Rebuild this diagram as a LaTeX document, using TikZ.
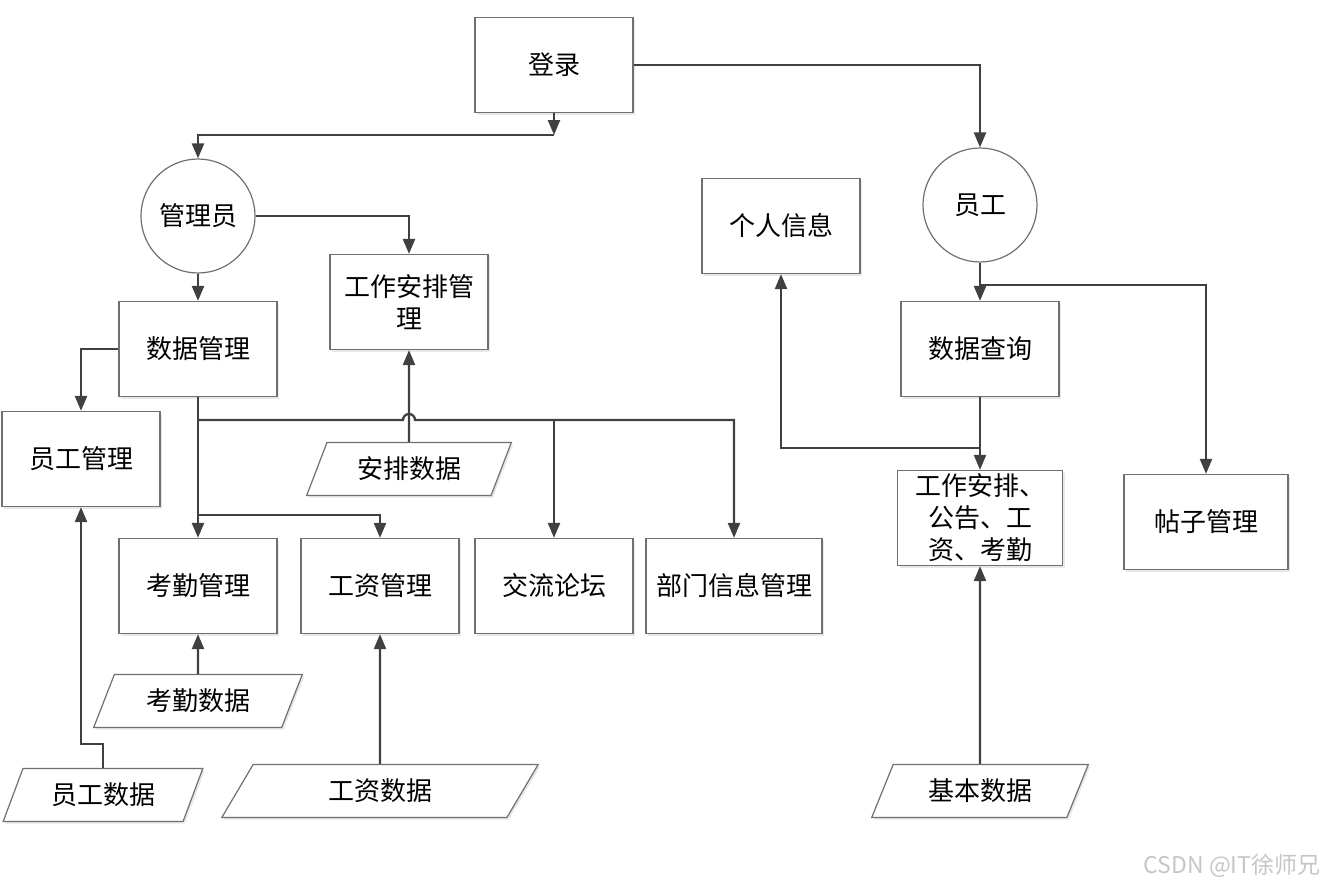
\documentclass[tikz,border=0pt]{standalone}
\usepackage{fontspec}
\setmainfont{Noto Sans CJK SC}
\usepackage{xcolor}
\usepackage{tikz}
\usetikzlibrary{positioning, shapes.geometric, arrows.meta, shadows, calc}

\definecolor{linegray}{HTML}{404040}
\definecolor{boxgray}{HTML}{707070}

\begin{document}
\begin{tikzpicture}[x=1pt, y=-1pt,
    box/.style={draw=boxgray, line width=1.2pt, fill=white, rectangle,
      minimum width=158pt, minimum height=95pt, align=center,
      font=\fontsize{26}{32}\selectfont,
      drop shadow={shadow xshift=2pt, shadow yshift=-2pt, opacity=0.18, fill=gray}},
    role/.style={draw=boxgray, line width=1.2pt, fill=white, circle,
      minimum size=114pt, font=\fontsize{26}{30}\selectfont},
    datain/.style={draw=boxgray, line width=1.2pt, fill=white, trapezium,
      trapezium left angle=66, trapezium right angle=114, trapezium stretches=true,
      minimum height=53pt, font=\fontsize{26}{30}\selectfont,
      drop shadow={shadow xshift=2pt, shadow yshift=-2pt, opacity=0.18, fill=gray}},
    arr/.style={draw=linegray, line width=2.3pt, -{Triangle[length=15pt, width=12pt]}},
    link/.style={draw=linegray, line width=2.3pt}]
  \useasboundingbox (0,0) rectangle (1332,889);

  % top
  \node[box] (login) at (554, 65) {登录};
  \node[role] (admin) at (198, 216) {管理员};
  \node[role] (staff) at (980, 205) {员工};

  % admin side
  \node[box] (plan) at (409, 302) {工作安排管\\理};
  \node[box] (data) at (198, 349) {数据管理};
  \node[box] (emp) at (81, 459) {员工管理};
  \node[box] (att) at (198, 586) {考勤管理};
  \node[box] (wage) at (380, 586) {工资管理};
  \node[box] (forum) at (554, 586) {交流论坛};
  \node[box, minimum width=176pt] (dept) at (734, 586) {部门信息管理};

  \node[datain, minimum width=205pt] (plandata) at (409, 469) {安排数据};
  \node[datain, minimum width=209pt] (attdata) at (198, 701) {考勤数据};
  \node[datain, minimum width=200pt] (empdata) at (103, 795) {员工数据};
  \node[datain, minimum width=317pt] (wagedata) at (380, 791) {工资数据};

  % staff side
  \node[box] (info) at (781, 226) {个人信息};
  \node[box] (query) at (980, 349) {数据查询};
  \node[box, minimum width=165pt] (notice) at (980, 518) {工作安排、\\公告、工\\资、考勤};
  \node[box, minimum width=164pt] (post) at (1206, 522) {帖子管理};
  \node[datain, minimum width=217pt] (basedata) at (980, 791) {基本数据};

  \coordinate (split) at (554, 135);
  \coordinate (bus) at (198, 420);
  \coordinate (wagebus) at (198, 515);
  \coordinate (postbus) at (980, 285);
  \coordinate (infobus) at (980, 448);

  \draw[arr] (login.south) -- (split);
  \draw[arr] (split) -| (admin.north);
  \draw[arr] (login.east) -| (staff.north);

  \draw[arr] (admin.east) -| (plan.north);
  \draw[arr] (admin.south) -- (data.north);
  \draw[arr] (data.west) -| (emp.north);
  \draw[arr] (data.south) -- (att.north);
  \draw[arr] (bus) -- ($(plan.south |- bus)+(-6,0)$)
    arc[start angle=180, end angle=360, radius=6] -| (dept.north);
  \draw[arr] (forum.north |- bus) -- (forum.north);
  \draw[arr] (wagebus) -| (wage.north);

  \draw[arr] (plandata.north) -- (plan.south);
  \draw[arr] (attdata.north) -- (att.south);
  \draw[arr] (empdata.north) -- ++(0,-24) -| (emp.south);
  \draw[arr] (wagedata.north) -- (wage.south);

  \draw[arr] (staff.south) -- (query.north);
  \draw[arr] (postbus) -| (post.north);
  \draw[arr] (query.south) -- (notice.north);
  \draw[arr] (infobus) -| (info.south);
  \draw[arr] (basedata.north) -- (notice.south);

  \node[text=gray!45, font=\fontsize{23}{26}\selectfont] (mark) at (1232, 866) {CSDN @IT徐师兄};
\end{tikzpicture}
\end{document}
